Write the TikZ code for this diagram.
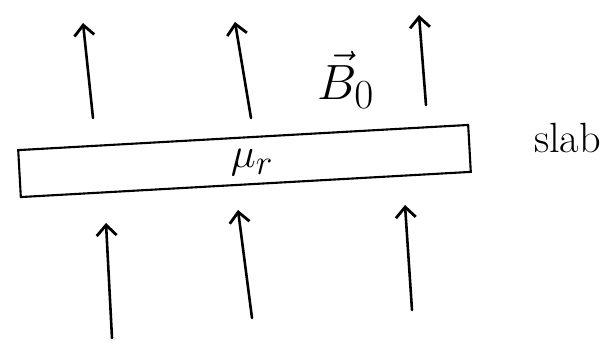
\documentclass[tikz,border=0pt]{standalone}
\usepackage{amsmath}
\usetikzlibrary{arrows.meta}

\tikzset{
  campo/.style={-{Straight Barb[length=9pt,width=17pt,line width=2.4pt]},line width=2.2pt,line cap=round},
  placa/.style={draw,line width=1.8pt,rotate=3.2,minimum width=13.52cm,minimum height=1.41cm,inner sep=0pt},
  letra/.style={font=\Huge,scale=#1}
}

\begin{document}
\begin{tikzpicture}[x=0.03cm,y=0.03cm]
  \useasboundingbox (0,0) rectangle (613,350);
  % la placa
  \node[placa] (slab) at (244.5,189) {};
  \node[letra=1.45] (mu) at (252,187) {$\mu_r$};
  \node[letra=1.45,anchor=west] (nombre) at (528,212) {slab};
  % campo aplicado
  \node[letra=1.7] (campo) at (346,270) {$\vec{B}_0$};
  % flechas arriba
  \coordinate (a1) at (93,232);  \coordinate (A1) at (83,327);
  \coordinate (a2) at (251,232); \coordinate (A2) at (235,328);
  \coordinate (a3) at (426,245); \coordinate (A3) at (419,335);
  % flechas abajo
  \coordinate (b1) at (112,12);  \coordinate (B1) at (106,127);
  \coordinate (b2) at (252,32);  \coordinate (B2) at (238,140);
  \coordinate (b3) at (412,40);  \coordinate (B3) at (405,145);
  \foreach \i in {1,2,3}{
    \draw[campo] (a\i) -- (A\i);
    \draw[campo] (b\i) -- (B\i);
  }
\end{tikzpicture}
\end{document}
